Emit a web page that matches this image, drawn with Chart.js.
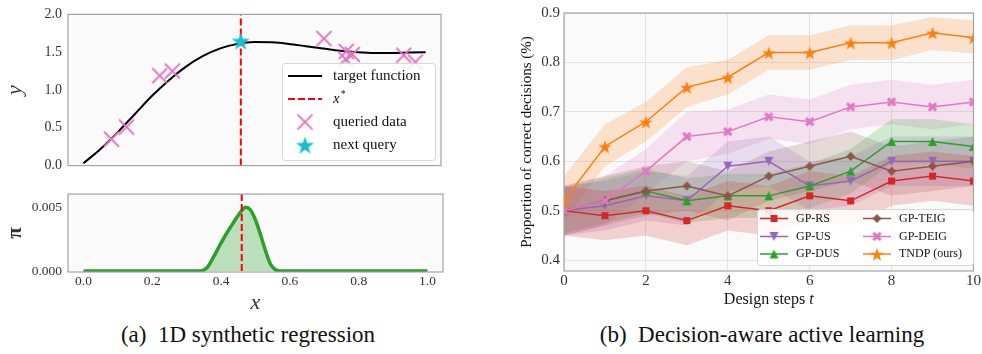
<!DOCTYPE html>
<html>
<head>
<meta charset="utf-8">
<script src="https://cdn.jsdelivr.net/npm/chart.js@4.4.1/dist/chart.umd.min.js"></script>
<style>
  body { margin: 0; width: 982px; height: 354px; position: relative; background: #fff; overflow: hidden; }
  canvas { position: absolute; }
  .cap { position: absolute; top: 322px; font-family: "Liberation Serif", "Times New Roman", serif; font-size: 23px; color: #111; white-space: nowrap; transform: translateX(-50%); line-height: 26px; }
</style>
</head>
<body>
<canvas id="topLeft" width="450" height="180" style="left:0;top:0"></canvas>
<canvas id="bottomLeft" width="450" height="135" style="left:0;top:180px"></canvas>
<canvas id="right" width="492" height="322" style="left:490px;top:0"></canvas>
<div class="cap" style="left:248px">(a)&nbsp; 1D synthetic regression</div>
<div class="cap" style="left:762px">(b)&nbsp; Decision-aware active learning</div>
<script>
var SERIF = '"Liberation Serif", "Times New Roman", serif';

// ---- (a) 1D synthetic regression ----
var fnX = [0, 0.05, 0.1, 0.15, 0.2, 0.25, 0.3, 0.35, 0.4, 0.45, 0.5, 0.55, 0.6, 0.65, 0.7, 0.75, 0.8, 0.85, 0.9, 0.95, 1.0];
var fnY = [0.03, 0.22, 0.44, 0.68, 0.92, 1.13, 1.31, 1.45, 1.55, 1.61, 1.635, 1.63, 1.61, 1.58, 1.55, 1.52, 1.50, 1.49, 1.49, 1.495, 1.50];
var xStar = 0.46;
var queryX = [0.082, 0.126, 0.223, 0.26, 0.703, 0.766, 0.768, 0.786, 0.936, 0.97];
var queryY = [0.35, 0.51, 1.19, 1.25, 1.68, 1.41, 1.51, 1.47, 1.46, 1.37];
var nextX = [0.46];
var nextY = [1.65];
var piX = [0, 0.30, 0.337, 0.359, 0.378, 0.398, 0.417, 0.436, 0.456, 0.472, 0.485, 0.50, 0.514, 0.529, 0.543, 0.558, 0.572, 0.60, 1.0];
var piY = [0, 0, 0, 0.00026, 0.0011, 0.0021, 0.003, 0.0038, 0.0046, 0.0050, 0.0048, 0.0040, 0.0029, 0.0016, 0.00057, 0.0001, 0, 0, 0];
var yTicksA = [0, 0.5, 1.0, 1.5, 2.0];
var piTicks = [0, 0.005];
var xTicksA = [0, 0.2, 0.4, 0.6, 0.8, 1.0];

// ---- (b) decision-aware active learning ----
var steps = [0, 1, 2, 3, 4, 5, 6, 7, 8, 9, 10];
var rsMean = [0.50, 0.49, 0.50, 0.48, 0.51, 0.50, 0.53, 0.52, 0.56, 0.57, 0.56];
var rsLow = [0.45, 0.44, 0.45, 0.43, 0.46, 0.45, 0.48, 0.47, 0.51, 0.52, 0.51];
var rsHigh = [0.55, 0.54, 0.55, 0.53, 0.56, 0.55, 0.58, 0.57, 0.61, 0.62, 0.61];
var usMean = [0.50, 0.51, 0.53, 0.52, 0.59, 0.60, 0.55, 0.56, 0.60, 0.60, 0.60];
var usLow = [0.45, 0.46, 0.48, 0.47, 0.54, 0.55, 0.50, 0.51, 0.55, 0.55, 0.55];
var usHigh = [0.55, 0.56, 0.58, 0.57, 0.64, 0.65, 0.60, 0.61, 0.65, 0.65, 0.65];
var dusMean = [0.50, 0.52, 0.54, 0.52, 0.53, 0.53, 0.55, 0.58, 0.64, 0.64, 0.63];
var dusLow = [0.455, 0.475, 0.495, 0.475, 0.485, 0.485, 0.505, 0.535, 0.595, 0.595, 0.585];
var dusHigh = [0.545, 0.565, 0.585, 0.565, 0.575, 0.575, 0.595, 0.625, 0.685, 0.685, 0.675];
var teigMean = [0.50, 0.52, 0.54, 0.55, 0.53, 0.57, 0.59, 0.61, 0.58, 0.59, 0.60];
var teigLow = [0.45, 0.47, 0.49, 0.50, 0.48, 0.52, 0.54, 0.56, 0.53, 0.54, 0.55];
var teigHigh = [0.55, 0.57, 0.59, 0.60, 0.58, 0.62, 0.64, 0.66, 0.63, 0.64, 0.65];
var deigMean = [0.50, 0.52, 0.58, 0.65, 0.66, 0.69, 0.68, 0.71, 0.72, 0.71, 0.72];
var deigLow = [0.45, 0.47, 0.535, 0.60, 0.615, 0.645, 0.635, 0.665, 0.675, 0.665, 0.675];
var deigHigh = [0.55, 0.57, 0.625, 0.70, 0.705, 0.735, 0.725, 0.755, 0.765, 0.755, 0.765];
var tndpMean = [0.52, 0.63, 0.68, 0.75, 0.77, 0.82, 0.82, 0.84, 0.84, 0.86, 0.85];
var tndpLow = [0.48, 0.59, 0.64, 0.71, 0.735, 0.785, 0.785, 0.805, 0.805, 0.825, 0.818];
var tndpHigh = [0.57, 0.675, 0.72, 0.79, 0.805, 0.855, 0.855, 0.875, 0.875, 0.892, 0.885];
var yTicksB = [0.4, 0.5, 0.6, 0.7, 0.8, 0.9];
var xTicksB = [0, 2, 4, 6, 8, 10];

Chart.defaults.font.family = SERIF;
Chart.defaults.color = '#333';

function pts(xs, ys) {
  return xs.map(function (x, i) { return { x: x, y: ys[i] }; });
}

// little canvases used as point styles (chart + legend)
function makeMarker(shape, size, color) {
  var cv = document.createElement('canvas');
  cv.width = cv.height = size + 4;
  var g = cv.getContext('2d');
  var c = cv.width / 2, r = size / 2;
  g.fillStyle = color;
  g.strokeStyle = color;
  g.beginPath();
  if (shape === 'square') {
    g.rect(c - r, c - r, size, size);
    g.fill();
  } else if (shape === 'triangle') {
    g.moveTo(c, c - r); g.lineTo(c + r, c + r); g.lineTo(c - r, c + r); g.closePath(); g.fill();
  } else if (shape === 'triangleDown') {
    g.moveTo(c, c + r); g.lineTo(c + r, c - r); g.lineTo(c - r, c - r); g.closePath(); g.fill();
  } else if (shape === 'diamond') {
    g.moveTo(c, c - r); g.lineTo(c + r, c); g.lineTo(c, c + r); g.lineTo(c - r, c); g.closePath(); g.fill();
  } else if (shape === 'xfill') {
    g.lineWidth = size * 0.34;
    g.moveTo(c - r * 0.8, c - r * 0.8); g.lineTo(c + r * 0.8, c + r * 0.8);
    g.moveTo(c + r * 0.8, c - r * 0.8); g.lineTo(c - r * 0.8, c + r * 0.8);
    g.stroke();
  } else if (shape === 'cross') {
    g.lineWidth = 1.8;
    g.moveTo(c - r, c - r); g.lineTo(c + r, c + r);
    g.moveTo(c + r, c - r); g.lineTo(c - r, c + r);
    g.stroke();
  } else if (shape === 'star') {
    for (var i = 0; i < 10; i++) {
      var rr = i % 2 ? r * 0.4 : r;
      var a = -Math.PI / 2 + i * Math.PI / 5;
      g.lineTo(c + rr * Math.cos(a), c + 1 + rr * Math.sin(a));
    }
    g.closePath();
    g.fill();
  }
  return cv;
}

var framePlugin = {
  id: 'frame',
  beforeDraw: function (chart) {
    var a = chart.chartArea, ctx = chart.ctx;
    ctx.save();
    ctx.fillStyle = '#fafafa';
    ctx.fillRect(a.left, a.top, a.right - a.left, a.bottom - a.top);
    ctx.restore();
  },
  afterDraw: function (chart) {
    var a = chart.chartArea, ctx = chart.ctx;
    ctx.save();
    ctx.strokeStyle = '#a3a3a3';
    ctx.lineWidth = 1.2;
    ctx.strokeRect(a.left, a.top, a.right - a.left, a.bottom - a.top);
    ctx.restore();
  }
};
Chart.register(framePlugin);

function fixedTicks(vals) {
  return function (scale) { scale.ticks = vals.map(function (v) { return { value: v }; }); };
}

var crossMark = makeMarker('cross', 15, '#e377c2');
var cyanStar = makeMarker('star', 19, '#17becf');

// legend inside the top-left panel
var legendA = {
  id: 'legendA',
  afterDraw: function (chart) {
    var ctx = chart.ctx;
    ctx.save();
    ctx.beginPath();
    ctx.roundRect(282.5, 63.5, 153, 97, 3);
    ctx.fillStyle = 'rgba(255,255,255,0.85)';
    ctx.fill();
    ctx.strokeStyle = '#d6d6d6';
    ctx.lineWidth = 1;
    ctx.stroke();
    var rows = [76, 99, 122, 145];
    ctx.lineWidth = 2;
    ctx.strokeStyle = '#000';
    ctx.beginPath(); ctx.moveTo(288, rows[0]); ctx.lineTo(322, rows[0]); ctx.stroke();
    ctx.strokeStyle = '#ff0000';
    ctx.setLineDash([7, 3]);
    ctx.beginPath(); ctx.moveTo(288, rows[1]); ctx.lineTo(322, rows[1]); ctx.stroke();
    ctx.setLineDash([]);
    ctx.drawImage(crossMark, 305 - crossMark.width / 2, rows[2] - crossMark.height / 2);
    ctx.drawImage(cyanStar, 305 - cyanStar.width / 2, rows[3] - cyanStar.height / 2);
    ctx.fillStyle = '#111';
    ctx.textBaseline = 'middle';
    ctx.font = '15px ' + SERIF;
    ctx.fillText('target function', 333, rows[0]);
    ctx.fillText('queried data', 333, rows[2]);
    ctx.fillText('next query', 333, rows[3]);
    ctx.font = 'italic 15px ' + SERIF;
    ctx.fillText('x', 333, rows[1]);
    var w = ctx.measureText('x').width;
    ctx.font = '10px ' + SERIF;
    ctx.fillText('*', 333 + w + 1, rows[1] - 5);
    ctx.restore();
  }
};

new Chart(document.getElementById('topLeft'), {
  type: 'line',
  data: {
    datasets: [
      { data: pts(fnX, fnY), borderColor: '#000', borderWidth: 2, pointRadius: 0, cubicInterpolationMode: 'monotone', order: 3 },
      { data: pts([xStar, xStar], [0, 2]), borderColor: '#ff0000', borderWidth: 2, borderDash: [7, 3], pointRadius: 0, order: 2 },
      { data: pts(queryX, queryY), showLine: false, pointStyle: crossMark, pointRadius: 6, order: 1 },
      { data: pts(nextX, nextY), showLine: false, pointStyle: cyanStar, pointRadius: 8, order: 0 }
    ]
  },
  options: {
    responsive: false,
    animation: false,
    events: [],
    layout: { padding: { left: 0, right: 7, top: 10, bottom: 12 } },
    plugins: { legend: { display: false }, tooltip: { enabled: false } },
    scales: {
      x: { type: 'linear', min: -0.045, max: 1.045, display: false },
      y: {
        min: 0, max: 2,
        afterBuildTicks: fixedTicks(yTicksA),
        afterFit: function (s) { s.width = 68; },
        grid: { display: false, drawTicks: false },
        border: { display: false },
        ticks: { padding: 6, font: { size: 14 }, callback: function (v) { return v.toFixed(1); } },
        title: { display: true, text: 'y', font: { size: 22, style: 'italic', lineHeight: 1 }, padding: { top: 4, bottom: 0 } }
      }
    }
  },
  plugins: [legendA]
});

new Chart(document.getElementById('bottomLeft'), {
  type: 'line',
  data: {
    datasets: [
      { data: pts([xStar, xStar], [0, 0.01]), borderColor: '#ff0000', borderWidth: 2, borderDash: [7, 3], pointRadius: 0, order: 0 },
      { data: pts(piX, piY), borderColor: '#2ca02c', borderWidth: 3.5, pointRadius: 0, cubicInterpolationMode: 'monotone',
        fill: 'origin', backgroundColor: 'rgba(44,160,44,0.3)', order: 1 }
    ]
  },
  options: {
    responsive: false,
    animation: false,
    events: [],
    layout: { padding: { left: 0, right: 7, top: 13, bottom: 0 } },
    plugins: { legend: { display: false }, tooltip: { enabled: false } },
    scales: {
      x: {
        type: 'linear', min: -0.045, max: 1.045,
        afterBuildTicks: fixedTicks(xTicksA),
        afterFit: function (s) { s.height = 43; },
        grid: { display: false, drawTicks: false },
        border: { display: false },
        ticks: { padding: 1, maxRotation: 0, font: { size: 13.5 }, callback: function (v) { return v.toFixed(1); } },
        title: { display: true, text: 'x', font: { size: 22, style: 'italic', lineHeight: 1 }, padding: { top: 0, bottom: 1 } }
      },
      y: {
        min: -0.00008, max: 0.00603,
        afterBuildTicks: fixedTicks(piTicks),
        afterFit: function (s) { s.width = 68; },
        grid: { display: false, drawTicks: false },
        border: { display: false },
        ticks: { padding: 6, font: { size: 13.5 }, callback: function (v) { return v.toFixed(3); } },
        title: { display: true, text: 'π', font: { size: 21, weight: 'bold', lineHeight: 1 }, padding: { top: 5, bottom: 0 } }
      }
    }
  }
});

// ---- right panel ----
var seriesB = [
  { name: 'GP-RS', mean: rsMean, low: rsLow, high: rsHigh, color: '#d62728', rgb: '214,39,40', marker: makeMarker('square', 7, '#d62728') },
  { name: 'GP-US', mean: usMean, low: usLow, high: usHigh, color: '#9467bd', rgb: '148,103,189', marker: makeMarker('triangleDown', 9, '#9467bd') },
  { name: 'GP-DUS', mean: dusMean, low: dusLow, high: dusHigh, color: '#2ca02c', rgb: '44,160,44', marker: makeMarker('triangle', 9, '#2ca02c') },
  { name: 'GP-TEIG', mean: teigMean, low: teigLow, high: teigHigh, color: '#8c564b', rgb: '140,86,75', marker: makeMarker('diamond', 9, '#8c564b') },
  { name: 'GP-DEIG', mean: deigMean, low: deigLow, high: deigHigh, color: '#e377c2', rgb: '227,119,194', marker: makeMarker('xfill', 9, '#e377c2') },
  { name: 'TNDP (ours)', mean: tndpMean, low: tndpLow, high: tndpHigh, color: '#ff7f0e', rgb: '255,127,14', marker: makeMarker('star', 14, '#ff7f0e') }
];

var dsB = [];
seriesB.forEach(function (s, i) {
  dsB.push({ data: pts(steps, s.low), borderWidth: 0, pointRadius: 0, fill: false, order: 30 });
  dsB.push({ data: pts(steps, s.high), borderWidth: 0, pointRadius: 0, fill: '-1', backgroundColor: 'rgba(' + s.rgb + ',0.2)', order: 30 });
});
seriesB.forEach(function (s, i) {
  dsB.push({ label: s.name, data: pts(steps, s.mean), borderColor: s.color, borderWidth: 1.5, pointStyle: s.marker, pointRadius: 5, order: 10 - i });
});

var legendB = {
  id: 'legendB',
  afterDraw: function (chart) {
    var ctx = chart.ctx;
    ctx.save();
    ctx.beginPath();
    ctx.roundRect(267.5, 209.5, 216, 56, 3);
    ctx.fillStyle = 'rgba(255,255,255,0.85)';
    ctx.fill();
    ctx.strokeStyle = '#d6d6d6';
    ctx.lineWidth = 1;
    ctx.stroke();
    var rows = [218.5, 236.5, 254];
    var cols = [270, 373];
    ctx.font = '12px ' + SERIF;
    ctx.textBaseline = 'middle';
    seriesB.forEach(function (s, i) {
      var x0 = cols[Math.floor(i / 3)], y0 = rows[i % 3];
      ctx.strokeStyle = s.color;
      ctx.lineWidth = 1.5;
      ctx.beginPath(); ctx.moveTo(x0, y0); ctx.lineTo(x0 + 28, y0); ctx.stroke();
      ctx.drawImage(s.marker, x0 + 14 - s.marker.width / 2, y0 - s.marker.height / 2);
      ctx.fillStyle = '#111';
      ctx.fillText(s.name, x0 + 36, y0);
    });
    // x axis title with italic t
    var a = chart.chartArea;
    ctx.font = '16px ' + SERIF;
    var w1 = ctx.measureText('Design steps ').width;
    ctx.font = 'italic 16px ' + SERIF;
    var w2 = ctx.measureText('t').width;
    var x = (a.left + a.right) / 2 - (w1 + w2) / 2;
    ctx.fillStyle = '#111';
    ctx.font = '16px ' + SERIF;
    ctx.fillText('Design steps ', x, 300);
    ctx.font = 'italic 16px ' + SERIF;
    ctx.fillText('t', x + w1, 300);
    ctx.restore();
  }
};

new Chart(document.getElementById('right'), {
  type: 'line',
  data: { datasets: dsB },
  options: {
    responsive: false,
    animation: false,
    events: [],
    layout: { padding: { left: 0, right: 8, top: 5, bottom: 0 } },
    plugins: { legend: { display: false }, tooltip: { enabled: false } },
    scales: {
      x: {
        type: 'linear', min: 0, max: 10,
        afterBuildTicks: fixedTicks(xTicksB),
        afterFit: function (s) { s.height = 51; },
        grid: { color: '#e3e3e3', drawTicks: false },
        border: { display: false },
        ticks: { padding: 1, maxRotation: 0, font: { size: 15 } }
      },
      y: {
        min: 0.378, max: 0.9,
        afterBuildTicks: fixedTicks(yTicksB),
        afterFit: function (s) { s.width = 74; },
        grid: { color: '#e3e3e3', drawTicks: false },
        border: { display: false },
        ticks: { padding: 4, font: { size: 15 }, callback: function (v) { return v.toFixed(1); } },
        title: { display: true, text: 'Proportion of correct decisions (%)', color: '#111', font: { size: 15, lineHeight: 1 }, padding: { top: 30, bottom: 0 } }
      }
    }
  },
  plugins: [legendB]
});
</script>
</body>
</html>
